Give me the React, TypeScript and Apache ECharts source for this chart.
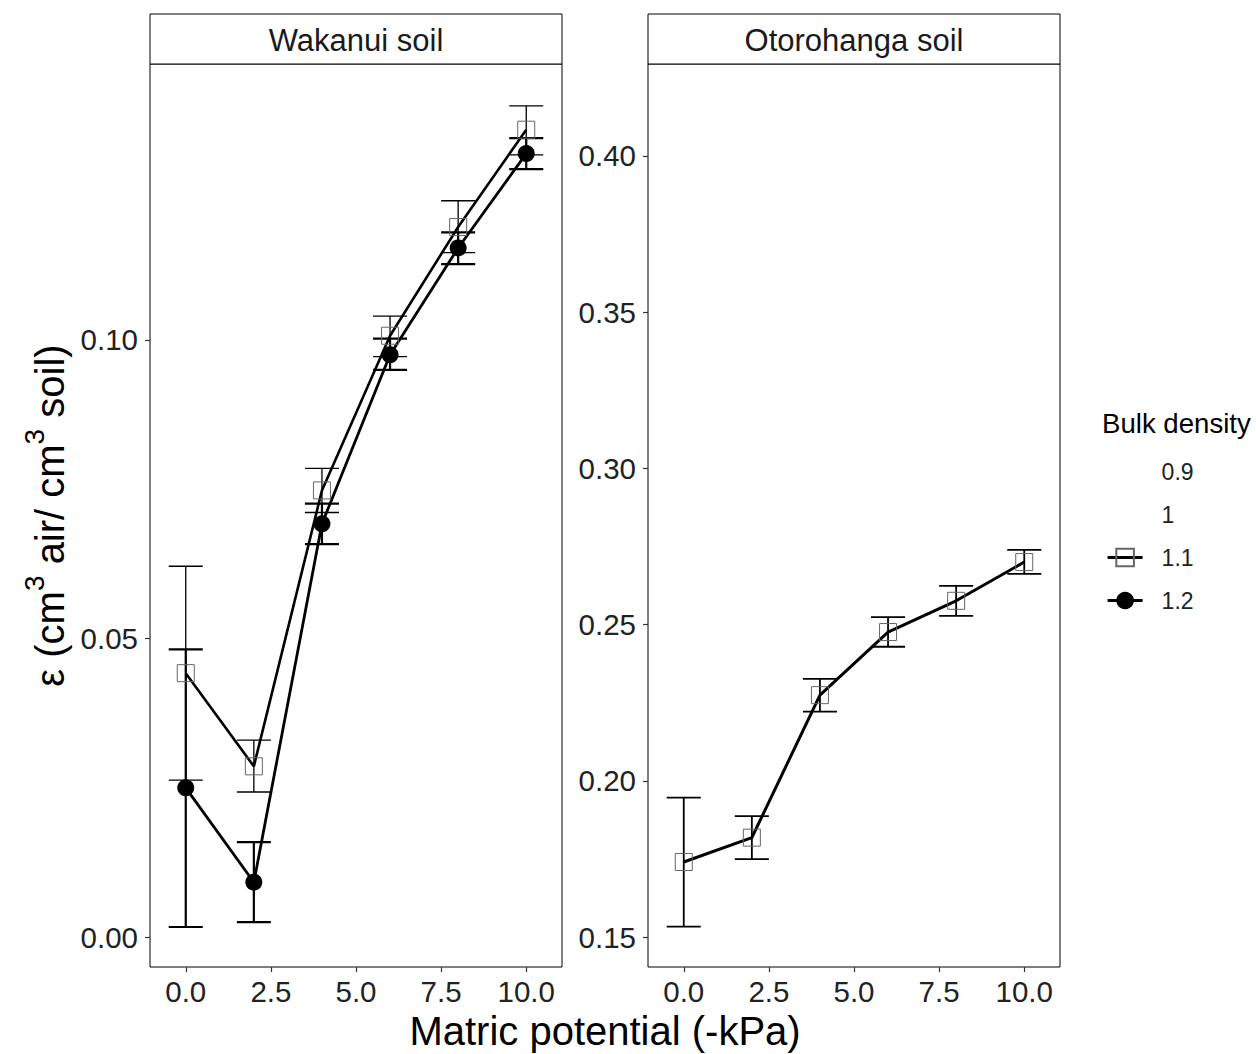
import React, { useEffect, useRef } from "react";
import * as echarts from "echarts";

const FONT = '"Liberation Sans", Arial, sans-serif';

const doses = [0, 2, 4, 6, 8, 10];
const xTicks = [0, 2.5, 5, 7.5, 10];
const leftYTicks = [0, 0.05, 0.1];
const rightYTicks = [0.15, 0.2, 0.25, 0.3, 0.35, 0.4];
const legendNames = ["0.9", "1", "1.1", "1.2"];
const panelNames = ["Wakanui soil", "Otorohanga soil"];

const wak11Mean = [0.0442, 0.0286, 0.0748, 0.1007, 0.1189, 0.1352];
const wak11Low = [0.0263, 0.0243, 0.0711, 0.0972, 0.1146, 0.131];
const wak11High = [0.0621, 0.033, 0.0785, 0.104, 0.1233, 0.1392];

const wak12Mean = [0.025, 0.0092, 0.0692, 0.0975, 0.1154, 0.1312];
const wak12Low = [0.0017, 0.0025, 0.0658, 0.095, 0.1127, 0.1286];
const wak12High = [0.0482, 0.0159, 0.0726, 0.1002, 0.118, 0.1338];

const oto11Mean = [0.174, 0.1818, 0.2274, 0.2476, 0.2576, 0.27];
const oto11Low = [0.1533, 0.1749, 0.2221, 0.2429, 0.2528, 0.2662];
const oto11High = [0.1946, 0.1887, 0.2326, 0.2524, 0.2624, 0.2739];

function errSeries(name: string, gi: number, low: number[], high: number[], w: number) {
  return {
    type: "custom",
    name,
    xAxisIndex: gi,
    yAxisIndex: gi,
    encode: { x: 0, y: [1, 2] },
    data: doses.map((d, i) => [d, low[i], high[i]]),
    silent: true,
    renderItem: (params: any, api: any) => {
      const x = api.value(0);
      const lo = api.coord([x, api.value(1)]);
      const hi = api.coord([x, api.value(2)]);
      const half = api.size([0.5, 0])[0];
      const st = { stroke: "#000", lineWidth: w };
      return {
        type: "group",
        children: [
          { type: "line", shape: { x1: lo[0], y1: lo[1], x2: hi[0], y2: hi[1] }, style: st },
          { type: "line", shape: { x1: lo[0] - half, y1: lo[1], x2: lo[0] + half, y2: lo[1] }, style: st },
          { type: "line", shape: { x1: hi[0] - half, y1: hi[1], x2: hi[0] + half, y2: hi[1] }, style: st },
        ],
      };
    },
  };
}

function squareLine(gi: number, mean: number[], lw: number) {
  return {
    type: "line",
    name: "1.1",
    xAxisIndex: gi,
    yAxisIndex: gi,
    data: doses.map((d, i) => [d, mean[i]]),
    symbol: "rect",
    symbolSize: 17,
    itemStyle: { color: "rgba(255,255,255,0)", borderColor: "#666", borderWidth: 1 },
    lineStyle: { color: "#000", width: lw },
    emphasis: { disabled: true },
  };
}

function circleLine(gi: number, mean: number[]) {
  return {
    type: "line",
    name: "1.2",
    xAxisIndex: gi,
    yAxisIndex: gi,
    data: doses.map((d, i) => [d, mean[i]]),
    symbol: "circle",
    symbolSize: 17,
    itemStyle: { color: "#000" },
    lineStyle: { color: "#000", width: 2.8 },
    emphasis: { disabled: true },
  };
}

export default function App() {
  const ref = useRef<HTMLDivElement>(null);
  useEffect(() => {
    if (!ref.current) return;
    const chart = echarts.init(ref.current, undefined, { renderer: "svg" });
    const gridBase = { top: 64, width: 412, height: 903, show: true, borderColor: "#000", borderWidth: 1, backgroundColor: "#fff" };
    const xAx = (gi: number) => ({
      type: "value",
      gridIndex: gi,
      min: -1.05,
      max: 11.05,
      axisLine: { show: false, onZero: false },
      splitLine: { show: false },
      axisTick: { show: true, length: 5, lineStyle: { color: "#333", width: 1.2 }, customValues: xTicks },
      axisLabel: { customValues: xTicks, formatter: (v: number) => v.toFixed(1), fontSize: 29.5, color: "#222", margin: 9, fontFamily: FONT },
    });
    const yAx = (gi: number, min: number, max: number, ticks: number[], extra: any = {}) => ({
      type: "value",
      gridIndex: gi,
      min,
      max,
      axisLine: { show: false, onZero: false },
      splitLine: { show: false },
      axisTick: { show: true, length: 5, lineStyle: { color: "#333", width: 1.2 }, customValues: ticks },
      axisLabel: { customValues: ticks, formatter: (v: number) => v.toFixed(2), fontSize: 29.5, color: "#222", margin: 12, fontFamily: FONT },
      ...extra,
    });
    const hiddenLegend = { itemStyle: { opacity: 0 }, lineStyle: { opacity: 0 } };
    const option: any = {
      animation: false,
      backgroundColor: "#fff",
      textStyle: { fontFamily: FONT },
      grid: [
        { ...gridBase, left: 150 },
        { ...gridBase, left: 648 },
      ],
      xAxis: [xAx(0), xAx(1)],
      yAxis: [
        yAx(0, -0.005, 0.1462, leftYTicks, {
          name: "{n|ε (cm}{s|3}{n| air/ cm}{s|3}{n| soil)}",
          nameLocation: "middle",
          nameRotate: 90,
          nameGap: 80,
          nameTextStyle: {
            fontFamily: FONT,
            rich: {
              n: { fontSize: 40, fontFamily: FONT, color: "#000", lineHeight: 50, verticalAlign: "bottom" },
              s: { fontSize: 28, fontFamily: FONT, color: "#000", lineHeight: 28, verticalAlign: "top" },
            },
          },
        }),
        yAx(1, 0.1404, 0.4294, rightYTicks),
      ],
      legend: {
        orient: "vertical",
        left: 1106,
        top: 460,
        padding: 0,
        itemWidth: 35,
        itemHeight: 22,
        itemGap: 20,
        selectedMode: false,
        data: [
          { name: legendNames[0], ...hiddenLegend },
          { name: legendNames[1], ...hiddenLegend },
          { name: legendNames[2], lineStyle: { width: 3.2 } },
          { name: legendNames[3], lineStyle: { width: 3.2 } },
        ],
        textStyle: { fontSize: 23, color: "#222", fontFamily: FONT, lineHeight: 22, padding: [0, 0, 0, 14] },
      },
      graphic: [
        { type: "rect", shape: { x: 150, y: 14, width: 412, height: 50 }, style: { fill: "#fff", stroke: "#000", lineWidth: 1 } },
        { type: "rect", shape: { x: 648, y: 14, width: 412, height: 50 }, style: { fill: "#fff", stroke: "#000", lineWidth: 1 } },
        { type: "text", x: 356, y: 40, style: { text: panelNames[0], fontSize: 31, fontFamily: FONT, fill: "#1a1a1a", align: "center", verticalAlign: "middle" } },
        { type: "text", x: 854, y: 40, style: { text: panelNames[1], fontSize: 31, fontFamily: FONT, fill: "#1a1a1a", align: "center", verticalAlign: "middle" } },
        { type: "text", x: 605, y: 1031, style: { text: "Matric potential (-kPa)", fontSize: 40, fontFamily: FONT, fill: "#000", align: "center", verticalAlign: "middle" } },
        { type: "text", x: 1102, y: 423, style: { text: "Bulk density", fontSize: 27.6, fontFamily: FONT, fill: "#000", align: "left", verticalAlign: "middle" } },
      ],
      series: [
        { type: "line", name: legendNames[0], data: [], xAxisIndex: 0, yAxisIndex: 0, symbol: "none", lineStyle: { opacity: 0 }, itemStyle: { opacity: 0 } },
        { type: "line", name: legendNames[1], data: [], xAxisIndex: 0, yAxisIndex: 0, symbol: "none", lineStyle: { opacity: 0 }, itemStyle: { opacity: 0 } },
        errSeries("err11L", 0, wak11Low, wak11High, 1.3),
        squareLine(0, wak11Mean, 2.6),
        errSeries("err12L", 0, wak12Low, wak12High, 2.2),
        circleLine(0, wak12Mean),
        errSeries("err11R", 1, oto11Low, oto11High, 1.8),
        squareLine(1, oto11Mean, 3),
      ],
    };
    chart.setOption(option);
    return () => chart.dispose();
  }, []);
  return <div ref={ref} style={{ position: "absolute", left: 0, top: 0, width: 1256, height: 1054 }} />;
}
